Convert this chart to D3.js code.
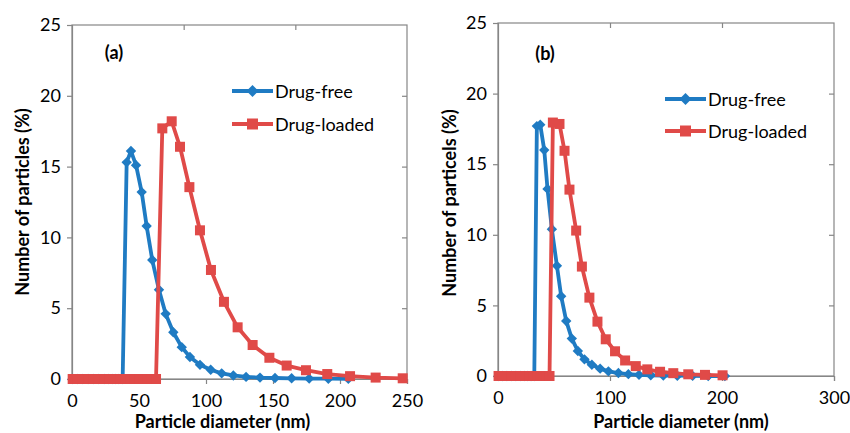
<!DOCTYPE html>
<html><head><meta charset="utf-8">
<script src="https://cdn.jsdelivr.net/npm/d3@7"></script>
<style>body{margin:0;background:#fff}svg{display:block}text{font-family:Lato,"Open Sans",sans-serif}</style>
</head><body><svg id="c" width="850" height="433"></svg>
<script>
const seriesNames = ["Drug-free", "Drug-loaded"];
const panelLabels = ["(a)", "(b)"];
const yTitles = ["Number of particles (%)", "Number of particels (%)"];
const xTitle = "Particle diameter (nm)";
const yTicks = [0, 5, 10, 15, 20, 25];
const xTicksA = [0, 50, 100, 150, 200, 250];
const xTicksB = [0, 100, 200, 300];

const aFreeX = [0.5, 4, 8, 12, 16, 20, 24, 27, 30, 32.5, 35, 37.8, 40.8, 44, 47.8, 52, 55.7, 59.9, 64.9, 69.9, 75.6, 81.9, 88, 95.5, 103.5, 111.7, 120.4, 129.9, 140.3, 151.5, 163.9, 177, 191.3, 206.2];
const aFreeY = [0, 0, 0, 0, 0, 0, 0, 0, 0, 0, 0, 0, 15.3, 16.1, 15.1, 13.2, 10.8, 8.4, 6.3, 4.6, 3.3, 2.25, 1.55, 1.0, 0.65, 0.4, 0.25, 0.15, 0.1, 0.07, 0.05, 0.03, 0.02, 0.01];
const aLoadedX = [0.5, 4, 8, 12, 16, 20, 24, 28, 32, 36, 40, 43.5, 47, 50.5, 53.5, 56.5, 59.5, 62.7, 67.4, 74.4, 80.6, 87.6, 95.5, 103.7, 113.4, 123.6, 134.8, 147.3, 160.2, 174.6, 190.5, 207.5, 226.6, 246.8];
const aLoadedY = [0, 0, 0, 0, 0, 0, 0, 0, 0, 0, 0, 0, 0, 0, 0, 0, 0, 0, 17.7, 18.2, 16.4, 13.55, 10.5, 7.7, 5.45, 3.65, 2.4, 1.5, 0.95, 0.62, 0.35, 0.2, 0.1, 0.05];

const bFreeX = [0.5, 4, 8, 12, 16, 20, 23.5, 26.5, 29.5, 32.4, 34.7, 37.7, 41.3, 44.2, 48.1, 52.6, 56.4, 60.9, 65.9, 71.3, 77.2, 83.8, 91.2, 98.6, 107.5, 116.4, 125.9, 136.4, 147.6, 160.1, 173.8, 187.7, 202.6];
const bFreeY = [0, 0, 0, 0, 0, 0, 0, 0, 0, 0, 17.7, 17.8, 16.0, 13.25, 10.4, 7.8, 5.65, 3.9, 2.65, 1.77, 1.18, 0.8, 0.52, 0.33, 0.21, 0.13, 0.08, 0.05, 0.03, 0.02, 0.01, 0, 0];
const bLoadedX = [0.5, 4, 8, 12, 16, 20, 24, 28, 31.5, 35, 38, 41, 43.5, 46, 49, 54.9, 59.4, 63.8, 69.8, 74.9, 81.6, 88.8, 96.2, 104.5, 113.5, 123, 133.3, 144.7, 156.5, 169.9, 184.8, 200.5];
const bLoadedY = [0, 0, 0, 0, 0, 0, 0, 0, 0, 0, 0, 0, 0, 0, 17.95, 17.85, 15.95, 13.2, 10.3, 7.75, 5.55, 3.85, 2.6, 1.75, 1.1, 0.7, 0.47, 0.3, 0.2, 0.12, 0.08, 0.05];

const colors = ["#1f7bc3", "#e04a48"];
const axisColor = "#868686";
const svg = d3.select("#c");

function zip(xs, ys) { return xs.map((x, i) => ({x, y: ys[i]})); }
// square-ish diamond (rotated square) like spreadsheet markers
function diamondPath(h) { return `M0,${-h}L${h},0L0,${h}L${-h},0Z`; }

function panel(o) {
  const g = svg.append("g");
  const x = d3.scaleLinear().domain(o.xDomain).range([o.left, o.right]);
  const y = d3.scaleLinear().domain([0, 25]).range([o.bottom, o.top]);
  g.append("rect").attr("x", o.left).attr("y", o.top).attr("width", o.right - o.left).attr("height", o.bottom - o.top)
    .attr("fill", "none").attr("stroke", axisColor).attr("stroke-width", 1.2);
  const ya = g.append("g").attr("transform", `translate(${o.left},0)`)
    .call(d3.axisLeft(y).tickValues(yTicks).tickSize(5).tickPadding(6).tickFormat(d3.format("d")));
  ya.select(".domain").attr("stroke", axisColor).attr("stroke-width", 1.2);
  ya.selectAll(".tick line").attr("stroke", axisColor).attr("stroke-width", 1.2);
  ya.selectAll("text").attr("font-size", 18).attr("fill", "#000").attr("font-family", "Lato");
  const ra = g.append("g").attr("transform", `translate(${o.right},0)`)
    .call(d3.axisLeft(y).tickValues(yTicks.slice(1, -1)).tickSize(5).tickFormat(""));
  ra.select(".domain").remove();
  ra.selectAll(".tick line").attr("stroke", axisColor).attr("stroke-width", 1.2);
  const xa = g.append("g").attr("transform", `translate(0,${o.bottom})`)
    .call(d3.axisBottom(x).tickValues(o.xTicks).tickSize(5).tickPadding(10).tickFormat(d3.format("d")));
  xa.select(".domain").attr("stroke", axisColor).attr("stroke-width", 1.2);
  xa.selectAll(".tick line").attr("stroke", axisColor).attr("stroke-width", 1.2);
  xa.selectAll("text").attr("font-size", 18).attr("fill", "#000").attr("font-family", "Lato");
  const tTop = [1, 2].map(k => o.xDomain[0] + k * (o.xDomain[1] - o.xDomain[0]) / 3);
  const ta = g.append("g").attr("transform", `translate(0,${o.top})`)
    .call(d3.axisBottom(x).tickValues(tTop).tickSize(5).tickFormat(""));
  ta.select(".domain").remove();
  ta.selectAll(".tick line").attr("stroke", axisColor).attr("stroke-width", 1.2);

  g.append("text").attr("x", (o.left + o.right) / 2 + o.xTitleDx).attr("y", 428).attr("text-anchor", "middle")
    .attr("font-size", 18).attr("font-weight", "bold").text(xTitle);
  g.append("text").attr("transform", `translate(${o.yTitleX},${o.yTitleY}) rotate(-90)`).attr("text-anchor", "middle")
    .attr("dominant-baseline", "central").attr("font-size", 18).attr("font-weight", "bold").text(o.yTitle);
  g.append("text").attr("x", o.labelX).attr("y", o.labelY).attr("text-anchor", "middle").attr("dominant-baseline", "central")
    .attr("font-size", 18).attr("font-weight", "bold").text(o.label);

  const line = d3.line().x(d => x(d.x)).y(d => y(d.y));
  o.series.forEach((s, i) => {
    const data = zip(s.x, s.y);
    g.append("path").datum(data).attr("d", line).attr("fill", "none").attr("stroke", colors[i])
      .attr("stroke-width", 3.8).attr("stroke-linejoin", "round");
    if (i === 0) {
      g.selectAll(null).data(data).enter().append("path").attr("d", diamondPath(5.2))
        .attr("transform", d => `translate(${x(d.x)},${y(d.y)})`).attr("fill", colors[i]);
    } else {
      g.selectAll(null).data(data).enter().append("rect")
        .attr("x", d => x(d.x) - 5).attr("y", d => y(d.y) - 5).attr("width", 10).attr("height", 10).attr("fill", colors[i]);
    }
  });

  seriesNames.forEach((name, i) => {
    const ly = o.legY[i];
    g.append("line").attr("x1", o.legX).attr("x2", o.legX + 41).attr("y1", ly).attr("y2", ly)
      .attr("stroke", colors[i]).attr("stroke-width", 3.8);
    const cx = o.legX + 20.5;
    if (i === 0) g.append("path").attr("d", diamondPath(6)).attr("transform", `translate(${cx},${ly})`).attr("fill", colors[i]);
    else g.append("rect").attr("x", cx - 5.5).attr("y", ly - 5.5).attr("width", 11).attr("height", 11).attr("fill", colors[i]);
    g.append("text").attr("x", o.legX + 43).attr("y", ly).attr("dominant-baseline", "central")
      .attr("font-size", 18).text(name);
  });
}

panel({left: 72, right: 407, top: 25, bottom: 379, xDomain: [0, 250], xTicks: xTicksA,
  series: [{x: aFreeX, y: aFreeY}, {x: aLoadedX, y: aLoadedY}],
  yTitle: yTitles[0], yTitleX: 22, yTitleY: 202, xTitleDx: -17, label: panelLabels[0], labelX: 114, labelY: 52,
  legX: 232, legY: [91, 124]});
panel({left: 498, right: 834, top: 23, bottom: 376, xDomain: [0, 300], xTicks: xTicksB,
  series: [{x: bFreeX, y: bFreeY}, {x: bLoadedX, y: bLoadedY}],
  yTitle: yTitles[1], yTitleX: 449, yTitleY: 203, xTitleDx: 15, label: panelLabels[1], labelX: 545, labelY: 53,
  legX: 665, legY: [99, 131]});
</script></body></html>
